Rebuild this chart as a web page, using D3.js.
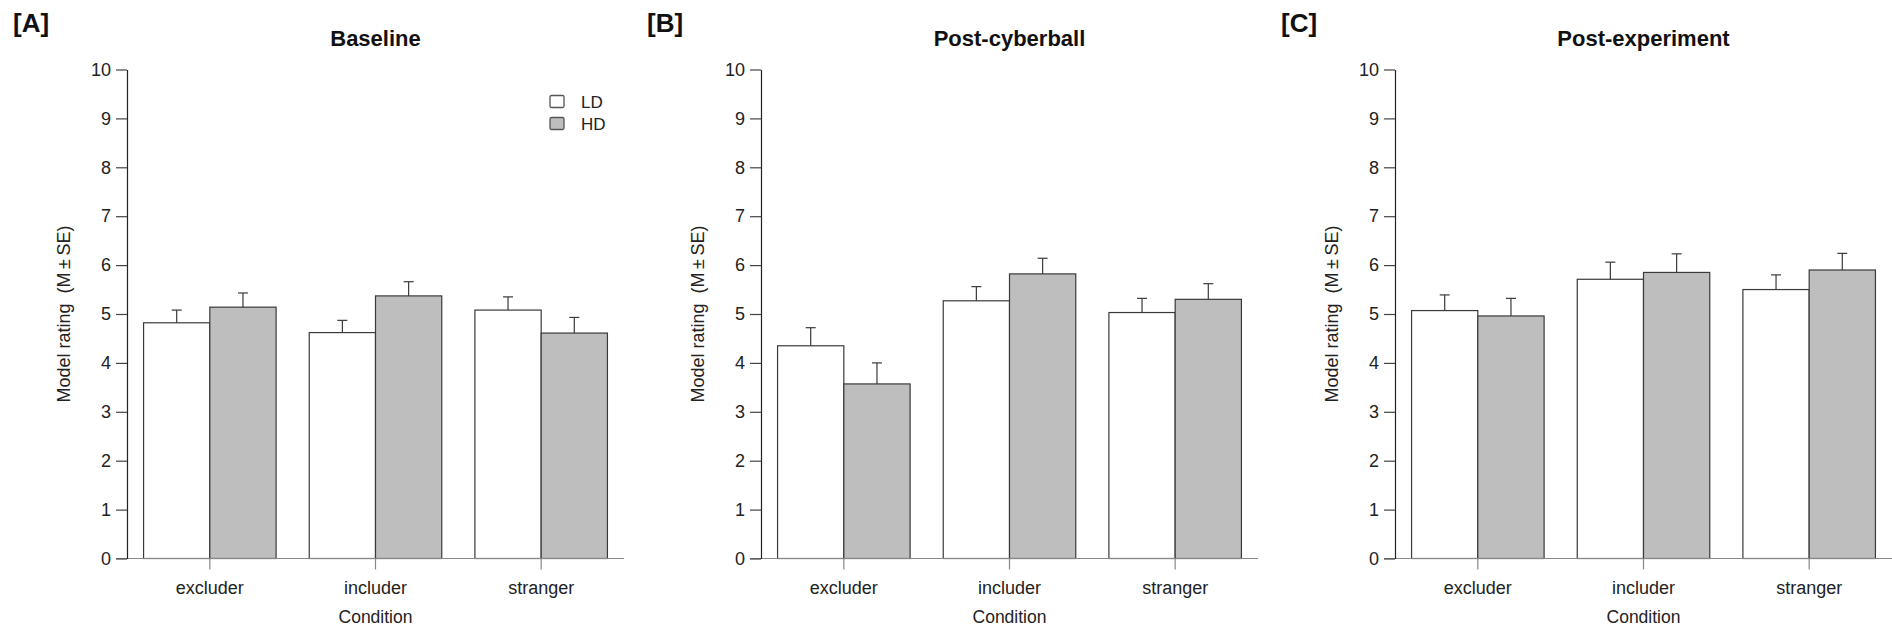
<!DOCTYPE html>
<html>
<head>
<meta charset="utf-8">
<script src="https://cdn.jsdelivr.net/npm/d3@7"></script>
<style>
  html, body { margin: 0; padding: 0; background: #fff; }
  svg { display: block; font-family: "Liberation Sans", Arial, Helvetica, sans-serif; }
</style>
</head>
<body>
<svg id="chart" width="1892" height="631"></svg>
<script>
// Conditions on the x axis and the two groups
const categories = ["excluder", "includer", "stranger"];
const groups = ["LD", "HD"];

// Panel headings
const panelLetters = ["[A]", "[B]", "[C]"];
const panelTitles = ["Baseline", "Post-cyberball", "Post-experiment"];

// Mean model ratings per condition
const baselineLD = [4.82, 4.62, 5.08];
const baselineHD = [5.14, 5.37, 4.61];
const cyberballLD = [4.35, 5.27, 5.03];
const cyberballHD = [3.57, 5.82, 5.30];
const experimentLD = [5.07, 5.71, 5.50];
const experimentHD = [4.96, 5.85, 5.90];

// Standard errors per condition
const baselineLDse = [0.26, 0.25, 0.27];
const baselineHDse = [0.29, 0.29, 0.32];
const cyberballLDse = [0.37, 0.29, 0.29];
const cyberballHDse = [0.43, 0.32, 0.32];
const experimentLDse = [0.32, 0.35, 0.30];
const experimentHDse = [0.36, 0.38, 0.34];

// y ticks
const yTicks = [0, 1, 2, 3, 4, 5, 6, 7, 8, 9, 10];

const panels = [
  { means: [baselineLD, baselineHD], ses: [baselineLDse, baselineHDse], legend: true },
  { means: [cyberballLD, cyberballHD], ses: [cyberballLDse, cyberballHDse], legend: false },
  { means: [experimentLD, experimentHD], ses: [experimentLDse, experimentHDse], legend: false }
];

const fills = { LD: "#ffffff", HD: "#bebebe" };
const svg = d3.select("#chart");

const panelStep = 634;
const axisX0 = 127;
const plotW = 497;
const y = d3.scaleLinear().domain([0, 10]).range([558.5, 69.5]);

panels.forEach((p, i) => {
  const left = axisX0 + i * panelStep;
  const g = svg.append("g").attr("transform", `translate(${left},0)`);

  const x = d3.scaleBand().domain(categories).range([0, plotW])
    .paddingInner(0.2).paddingOuter(0.1);
  const xs = d3.scaleBand().domain(groups).range([0, x.bandwidth()]);

  // panel letter
  svg.append("text")
    .attr("x", left - 114).attr("y", 32)
    .attr("font-size", 26).attr("font-weight", "bold").attr("fill", "#111")
    .text(panelLetters[i]);

  // title
  g.append("text")
    .attr("x", plotW / 2).attr("y", 46)
    .attr("text-anchor", "middle")
    .attr("font-size", 22).attr("font-weight", "bold").attr("fill", "#111")
    .text(panelTitles[i]);

  // bars
  groups.forEach((grp, gi) => {
    const vals = p.means[gi];
    const ses = p.ses[gi];
    const bars = g.append("g");
    bars.selectAll("rect").data(categories).join("rect")
      .attr("x", (c) => x(c) + xs(grp))
      .attr("y", (c, k) => y(vals[k]))
      .attr("width", xs.bandwidth())
      .attr("height", (c, k) => y(0) - y(vals[k]))
      .attr("fill", fills[grp])
      .attr("stroke", "#3a3a3a")
      .attr("stroke-width", 1.2);

    // upper error whiskers
    const eb = g.append("g").attr("stroke", "#3a3a3a").attr("stroke-width", 1.2);
    categories.forEach((c, k) => {
      const cx = x(c) + xs(grp) + xs.bandwidth() / 2;
      eb.append("line")
        .attr("x1", cx).attr("x2", cx)
        .attr("y1", y(vals[k])).attr("y2", y(vals[k] + ses[k]));
      eb.append("line")
        .attr("x1", cx - 5).attr("x2", cx + 5)
        .attr("y1", y(vals[k] + ses[k])).attr("y2", y(vals[k] + ses[k]));
    });
  });

  // x baseline
  g.append("line")
    .attr("x1", -11).attr("x2", plotW + (i === 2 ? 10 : 0))
    .attr("y1", y(0)).attr("y2", y(0))
    .attr("stroke", "#888").attr("stroke-width", 1.2);

  // x axis ticks and labels
  const xAxis = g.append("g")
    .attr("transform", `translate(0,${y(0)})`)
    .call(d3.axisBottom(x).tickSize(11).tickPadding(12).tickSizeOuter(0));
  xAxis.select(".domain").remove();
  xAxis.selectAll(".tick line").attr("stroke", "#888").attr("stroke-width", 1.2);
  xAxis.selectAll(".tick text")
    .attr("font-size", 18).attr("fill", "#222")
    .attr("font-family", "Liberation Sans, Arial, sans-serif");

  // y axis
  const yAxis = g.append("g")
    .call(d3.axisLeft(y).tickValues(yTicks).tickSize(11).tickPadding(5).tickSizeOuter(0));
  yAxis.select(".domain").attr("stroke", "#222").attr("stroke-width", 1.2);
  yAxis.selectAll(".tick line").attr("stroke", "#444").attr("stroke-width", 1.2);
  yAxis.selectAll(".tick text")
    .attr("font-size", 18).attr("fill", "#222")
    .attr("font-family", "Liberation Sans, Arial, sans-serif");

  // axis titles
  g.append("text")
    .attr("transform", `translate(-57,${(y(0) + y(10)) / 2}) rotate(-90)`)
    .attr("text-anchor", "middle")
    .attr("font-size", 18).attr("fill", "#222")
    .style("white-space", "pre")
    .text("Model rating  (M\u2009\u00b1\u2009SE)");

  g.append("text")
    .attr("x", x("includer") + x.bandwidth() / 2).attr("y", 623)
    .attr("text-anchor", "middle")
    .attr("font-size", 17.5).attr("fill", "#222")
    .text("Condition");

  // legend
  if (p.legend) {
    const lg = g.append("g").attr("transform", "translate(423,0)");
    groups.forEach((grp, gi) => {
      const cy = 101.5 + gi * 22;
      lg.append("rect")
        .attr("x", 0).attr("y", cy - 6).attr("width", 14).attr("height", 12)
        .attr("rx", 1.5)
        .attr("fill", fills[grp]).attr("stroke", "#555").attr("stroke-width", 1.3);
      lg.append("text")
        .attr("x", 31).attr("y", cy + 6)
        .attr("font-size", 17).attr("fill", "#222")
        .text(grp);
    });
  }
});
</script>
</body>
</html>
